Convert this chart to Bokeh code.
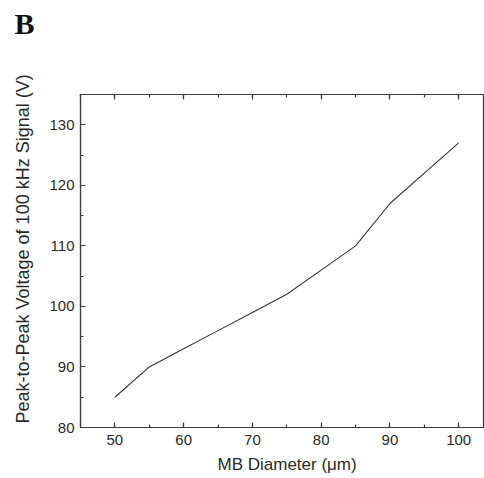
from bokeh.plotting import figure
from bokeh.models import Title, LinearAxis, SingleIntervalTicker, Range1d, CustomJSTickFormatter
from bokeh.embed import file_html
from bokeh.resources import INLINE

# Data
diameter_um = [50, 55, 60, 65, 70, 75, 80, 85, 90, 95, 100]
voltage_pp = [85, 90, 93, 96, 99, 102, 106, 110, 117, 122, 127]

x_title = "MB Diameter (\u03bcm)"
y_title = "Peak-to-Peak Voltage of 100 kHz Signal (V)"
panel_letter = "B"

FONT = "Liberation Sans"
TXT = "#2a2a2a"
AX = "#3c3c3c"

W, H = 484, 478
L, T, B = 78, 94, 51

p = figure(width=W, height=H, output_backend="svg", toolbar_location=None,
           x_range=Range1d(45, 103.75), y_range=Range1d(80, 135),
           min_border_left=L, min_border_top=T, min_border_bottom=B, min_border_right=0)

p.line(diameter_um, voltage_pp, line_color="#333333", line_width=1.1)

p.xgrid.visible = False
p.ygrid.visible = False
p.background_fill_color = "white"
p.border_fill_color = "white"
p.outline_line_color = AX
p.outline_line_width = 1.2


def style(ax, standoff=6):
    ax.axis_line_color = AX
    ax.axis_line_width = 1.2
    ax.major_tick_in = 5
    ax.major_tick_out = 0
    ax.minor_tick_in = 3
    ax.minor_tick_out = 0
    ax.major_tick_line_color = AX
    ax.minor_tick_line_color = AX
    ax.major_tick_line_width = 1.2
    ax.minor_tick_line_width = 1.2
    ax.major_label_standoff = standoff
    ax.major_label_text_font = FONT
    ax.major_label_text_color = TXT
    ax.major_label_text_font_size = "15px"


p.xaxis.ticker = SingleIntervalTicker(interval=10, num_minor_ticks=2)
p.yaxis.ticker = SingleIntervalTicker(interval=10, num_minor_ticks=2)
style(p.xaxis[0], 7)
style(p.yaxis[0], 6)

# mirrored tick marks on the top edge (no labels)
top = LinearAxis(ticker=SingleIntervalTicker(interval=10, num_minor_ticks=2),
                 formatter=CustomJSTickFormatter(code="return '';"))
style(top, 0)
p.add_layout(top, "above")

# invisible spacer that pushes the panel letter to the top of the canvas
spacer = LinearAxis(ticker=SingleIntervalTicker(interval=10, num_minor_ticks=0),
                    formatter=CustomJSTickFormatter(code="return '';"),
                    axis_line_alpha=0, major_tick_line_alpha=0, minor_tick_line_alpha=0,
                    major_tick_in=0, major_tick_out=55, minor_tick_in=0, minor_tick_out=0,
                    major_label_standoff=0)
p.add_layout(spacer, "above")

# Axis titles and panel letter
p.add_layout(Title(text=x_title, align="left", offset=215 - L, standoff=10,
                   vertical_align="bottom",
                   text_font=FONT, text_font_size="17px", text_font_style="normal",
                   text_color=TXT), "below")
p.add_layout(Title(text=y_title, align="left", offset=4, standoff=24,
                   vertical_align="top",
                   text_font=FONT, text_font_size="18px", text_font_style="normal",
                   text_color=TXT), "left")
p.add_layout(Title(text=panel_letter, align="left", offset=12 - L, standoff=0,
                   vertical_align="bottom",
                   text_font="Liberation Serif", text_font_style="bold", text_font_size="30px",
                   text_color="#111111"), "above")

open("out.html", "w").write(file_html(p, INLINE))
